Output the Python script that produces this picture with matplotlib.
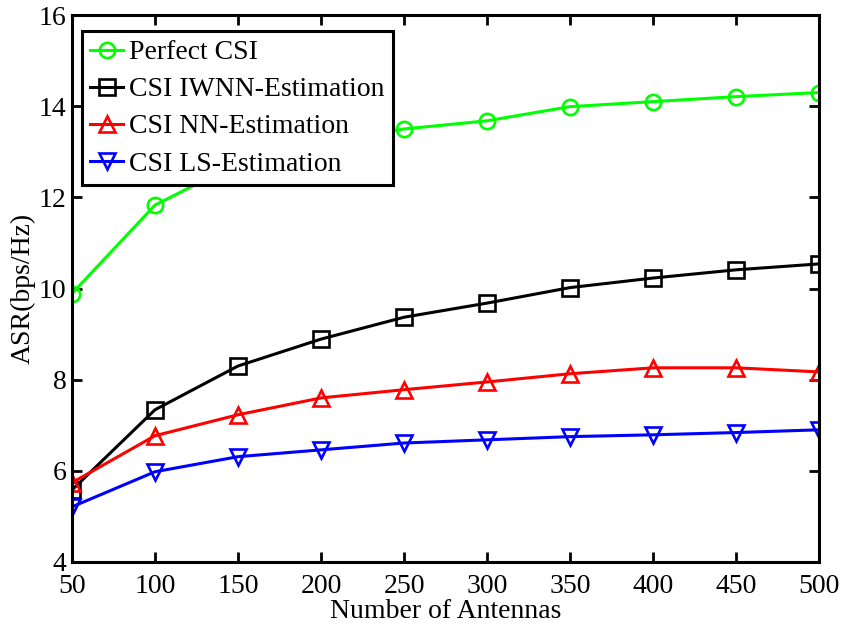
"""ASR versus number of antennas."""
import matplotlib

matplotlib.use("Agg")
import matplotlib.pyplot as plt

plt.rcParams["font.family"] = ["Liberation Serif", "DejaVu Serif"]
plt.rcParams["mathtext.fontset"] = "stix"

# Data.
antennas = [50, 100, 150, 200, 250, 300, 350, 400, 450, 500]
perfect_csi = [9.89, 11.83, 12.75, 13.22, 13.50, 13.68, 13.99, 14.10, 14.21, 14.30]
iwnn_est = [5.58, 7.34, 8.30, 8.89, 9.37, 9.68, 10.02, 10.23, 10.41, 10.54]
nn_est = [5.74, 6.77, 7.23, 7.60, 7.78, 7.95, 8.13, 8.26, 8.26, 8.17]
ls_est = [5.21, 5.98, 6.31, 6.46, 6.61, 6.68, 6.75, 6.79, 6.84, 6.90]

labels = ["Perfect CSI", "CSI IWNN-Estimation", "CSI NN-Estimation", "CSI LS-Estimation"]
colors = ["#00ff00", "black", "red", "blue"]
markers = ["o", "s", "^", "v"]

fig = plt.figure(figsize=(8.41, 6.32), dpi=100)
ax = fig.add_axes([0.0856, 0.1108, 0.8884, 0.8654])

for y, lab, c, m in zip([perfect_csi, iwnn_est, nn_est, ls_est], labels, colors, markers):
    ax.plot(antennas, y, color=c, marker=m, markersize=11, markerfacecolor="none",
            markeredgewidth=1.9, linewidth=2.2, label=lab)

ax.set_xlim(50, 500)
ax.set_ylim(4, 16)
ax.set_xticks(antennas)
ax.set_yticks(range(4, 17, 2))

# MATLAB-like axes: thick box, inward ticks on all sides.
for s in ax.spines.values():
    s.set_linewidth(2.2)
ax.tick_params(direction="in", length=7, width=2, labelsize=20,
               top=True, right=True, pad=4)
ax.tick_params(axis="x", pad=8.5)
ax.set_xlabel("Number of Antennas", fontsize=20, labelpad=0)
ax.set_ylabel("ASR(bps/Hz)", fontsize=20, labelpad=2)

leg = ax.legend(loc="upper left", bbox_to_anchor=(0.013, 0.97), fontsize=20,
                frameon=True, fancybox=False, framealpha=1, handlelength=1.2,
                handletextpad=0.2, borderpad=0.3, labelspacing=0.42,
                borderaxespad=0)
leg.get_frame().set_edgecolor("black")
leg.get_frame().set_linewidth(2.2)

fig.savefig("out.png", dpi=100)
